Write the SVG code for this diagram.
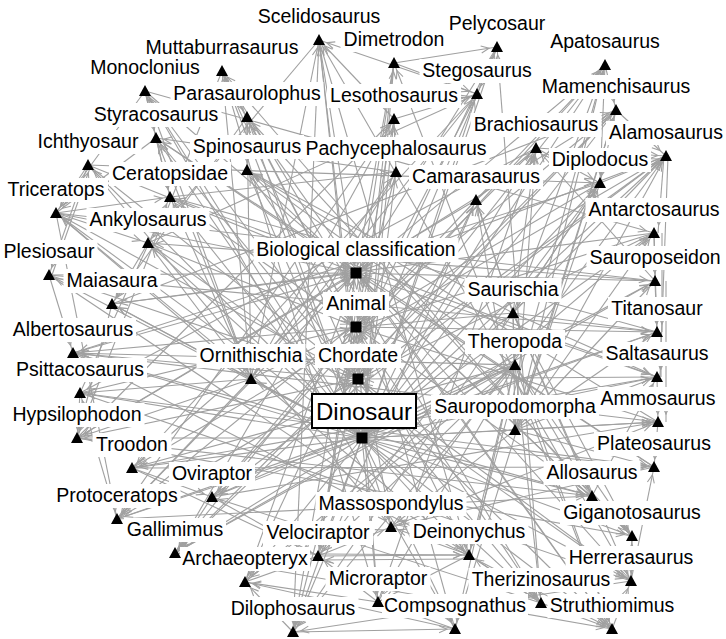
<svg xmlns="http://www.w3.org/2000/svg" xmlns:xlink="http://www.w3.org/1999/xlink" width="726" height="639" viewBox="0 0 726 639">
<style>
#edges path{fill:none;stroke:#a0a0a0;stroke-width:1.1;marker-end:url(#ah)}
.node rect{fill:#fff}
.node text{font-family:"Liberation Sans",Arial,sans-serif;font-size:19.5px;text-anchor:middle;fill:#000}
.node use{fill:#000}
#dinosaur rect{stroke:#000;stroke-width:2}
#dinosaur text{font-size:24px}
</style>
<defs>
<marker id="ah" viewBox="0 0 10 10" refX="17" refY="5" markerWidth="10" markerHeight="10" markerUnits="userSpaceOnUse" orient="auto"><path d="M1,1.5L9,5L1,8.5" fill="none" stroke="#a0a0a0" stroke-width="1.1"/></marker>
<path id="tri" d="M0,-6L6,5H-6Z"/>
<rect id="sq" x="-5.5" y="-5.5" width="11" height="11"/>
</defs>
<rect width="726" height="639" fill="#fff"/>
<g id="edges">
<path d="M362,438L319,40"/><path d="M362,438L222,71"/><path d="M362,438L145,91"/><path d="M362,438L247,117"/><path d="M362,438L156,138"/><path d="M362,438L247,170"/><path d="M362,438L88,165"/><path d="M362,438L170,197"/><path d="M362,438L56,213"/><path d="M362,438L148,243"/><path d="M362,438L49,275"/><path d="M362,438L112,304"/><path d="M362,438L73,353"/><path d="M362,438L80,393"/><path d="M362,438L251,379"/><path d="M362,438L77,438"/><path d="M362,438L132,468"/><path d="M362,438L212,497"/><path d="M362,438L117,519"/><path d="M362,438L175,553"/><path d="M362,438L245,582"/><path d="M362,438L318,556"/><path d="M362,438L293,632"/><path d="M362,438L378,602"/><path d="M362,438L455,629"/><path d="M362,438L391,527"/><path d="M362,438L469,555"/><path d="M362,438L541,603"/><path d="M362,438L612,629"/><path d="M362,438L631,581"/><path d="M362,438L632,536"/><path d="M362,438L592,496"/><path d="M362,438L654,467"/><path d="M362,438L515,430"/><path d="M362,438L658,422"/><path d="M362,438L657,377"/><path d="M362,438L515,365"/><path d="M362,438L657,332"/><path d="M362,438L513,313"/><path d="M362,438L655,281"/><path d="M362,438L654,233"/><path d="M362,438L600,183"/><path d="M362,438L666,156"/><path d="M362,438L476,200"/><path d="M362,438L536,148"/><path d="M362,438L396,172"/><path d="M362,438L616,110"/><path d="M362,438L394,119"/><path d="M362,438L477,94"/><path d="M362,438L605,65"/><path d="M362,438L497,47"/><path d="M362,438L394,63"/>
<path d="M319,40L356,273"/><path d="M145,91L356,273"/><path d="M156,138L356,273"/><path d="M88,165L356,273"/><path d="M56,213L356,273"/><path d="M49,275L356,273"/><path d="M73,353L356,273"/><path d="M77,438L356,273"/><path d="M117,519L356,273"/><path d="M245,582L356,273"/><path d="M293,632L356,273"/><path d="M455,629L356,273"/><path d="M612,629L356,273"/><path d="M631,581L356,273"/><path d="M654,467L356,273"/><path d="M657,377L356,273"/><path d="M655,281L356,273"/><path d="M666,156L356,273"/><path d="M616,110L356,273"/><path d="M605,65L356,273"/><path d="M497,47L356,273"/><path d="M394,63L356,273"/><path d="M112,304L356,273"/><path d="M632,536L356,273"/><path d="M132,468L356,273"/>
<path d="M222,71L356,327"/><path d="M247,117L356,327"/><path d="M247,170L356,327"/><path d="M170,197L356,327"/><path d="M148,243L356,327"/><path d="M80,393L356,327"/><path d="M251,379L356,327"/><path d="M212,497L356,327"/><path d="M175,553L356,327"/><path d="M318,556L356,327"/><path d="M378,602L356,327"/><path d="M391,527L356,327"/><path d="M469,555L356,327"/><path d="M541,603L356,327"/><path d="M592,496L356,327"/><path d="M658,422L356,327"/><path d="M657,332L356,327"/><path d="M654,233L356,327"/><path d="M600,183L356,327"/><path d="M476,200L356,327"/><path d="M536,148L356,327"/><path d="M394,119L356,327"/><path d="M477,94L356,327"/><path d="M396,172L356,327"/>
<path d="M319,40L358,379"/><path d="M88,165L358,379"/><path d="M49,275L358,379"/><path d="M497,47L358,379"/><path d="M394,63L358,379"/><path d="M56,213L358,379"/><path d="M73,353L358,379"/><path d="M175,553L358,379"/><path d="M612,629L358,379"/><path d="M657,377L358,379"/><path d="M666,156L358,379"/><path d="M605,65L358,379"/><path d="M145,91L358,379"/><path d="M77,438L358,379"/><path d="M293,632L358,379"/><path d="M631,581L358,379"/><path d="M654,233L358,379"/><path d="M616,110L358,379"/><path d="M222,71L358,379"/><path d="M117,519L358,379"/>
<path d="M513,313L515,365"/><path d="M513,313L515,430"/><path d="M513,313L247,170"/><path d="M513,313L73,353"/><path d="M513,313L592,496"/><path d="M513,313L632,536"/><path d="M513,313L293,632"/><path d="M513,313L631,581"/><path d="M513,313L536,148"/><path d="M513,313L600,183"/><path d="M513,313L605,65"/><path d="M513,313L476,200"/><path d="M513,313L666,156"/><path d="M513,313L657,332"/><path d="M513,313L657,377"/>
<path d="M251,379L319,40"/><path d="M251,379L222,71"/><path d="M251,379L145,91"/><path d="M251,379L247,117"/><path d="M251,379L156,138"/><path d="M251,379L170,197"/><path d="M251,379L56,213"/><path d="M251,379L148,243"/><path d="M251,379L112,304"/><path d="M251,379L80,393"/><path d="M251,379L77,438"/><path d="M251,379L117,519"/><path d="M251,379L396,172"/><path d="M251,379L394,119"/><path d="M251,379L477,94"/>
<path d="M515,365L132,468"/><path d="M515,365L212,497"/><path d="M515,365L175,553"/><path d="M515,365L318,556"/><path d="M515,365L378,602"/><path d="M515,365L245,582"/><path d="M515,365L469,555"/><path d="M515,365L541,603"/><path d="M515,365L612,629"/><path d="M515,365L455,629"/><path d="M515,365L247,170"/><path d="M515,365L73,353"/><path d="M515,365L592,496"/><path d="M515,365L632,536"/><path d="M515,365L293,632"/>
<path d="M515,430L391,527"/><path d="M515,430L654,467"/><path d="M515,430L658,422"/><path d="M515,430L654,233"/><path d="M515,430L655,281"/><path d="M515,430L657,377"/><path d="M515,430L657,332"/><path d="M515,430L600,183"/><path d="M515,430L536,148"/><path d="M515,430L616,110"/><path d="M515,430L605,65"/><path d="M515,430L476,200"/><path d="M515,430L666,156"/>
<path d="M56,213L170,197"/><path d="M156,138L170,197"/><path d="M145,91L170,197"/><path d="M117,519L80,393"/><path d="M56,213L117,519"/><path d="M156,138L56,213"/><path d="M80,393L170,197"/><path d="M145,91L56,213"/><path d="M88,165L49,275"/><path d="M52,275L91,165"/><path d="M394,63L497,47"/><path d="M318,556L469,555"/><path d="M469,559L318,560"/><path d="M378,602L245,582"/><path d="M245,582L318,556"/><path d="M132,468L318,556"/><path d="M212,497L318,556"/><path d="M175,553L612,629"/><path d="M73,353L592,496"/><path d="M632,536L592,496"/><path d="M247,170L632,536"/><path d="M631,581L632,536"/><path d="M541,603L212,497"/><path d="M455,629L245,582"/><path d="M293,632L455,629"/><path d="M378,602L318,556"/><path d="M469,555L378,602"/><path d="M536,148L600,183"/><path d="M605,65L600,183"/><path d="M476,200L536,148"/><path d="M655,281L536,148"/><path d="M661,332L661,377"/><path d="M668,156L660,377"/><path d="M662,233L662,332"/><path d="M664,156L658,233"/><path d="M666,281L666,422"/><path d="M654,233L657,332"/><path d="M616,110L600,183"/><path d="M600,183L666,156"/><path d="M654,233L655,281"/><path d="M658,422L654,467"/><path d="M654,467L391,527"/><path d="M631,581L654,467"/><path d="M477,94L319,40"/><path d="M394,119L319,40"/><path d="M319,40L148,243"/><path d="M148,243L477,94"/><path d="M396,172L394,119"/><path d="M247,117L112,304"/><path d="M222,71L77,438"/><path d="M77,438L394,119"/><path d="M476,200L605,65"/><path d="M396,172L156,138"/><path d="M132,468L212,497"/><path d="M212,497L175,553"/><path d="M175,553L469,555"/><path d="M631,581L293,632"/><path d="M541,603L612,629"/><path d="M592,496L657,377"/><path d="M170,197L396,172"/><path d="M247,117L247,170"/><path d="M112,304L77,438"/><path d="M49,275L73,353"/><path d="M80,393L77,438"/><path d="M56,213L148,243"/><path d="M148,243L112,304"/><path d="M536,148L666,156"/><path d="M605,65L616,110"/><path d="M616,110L666,156"/><path d="M655,281L657,332"/><path d="M657,377L658,422"/><path d="M476,200L513,313"/><path d="M600,183L513,313"/><path d="M632,536L631,581"/><path d="M391,527L658,422"/><path d="M394,63L477,94"/><path d="M497,47L477,94"/><path d="M394,119L477,94"/><path d="M222,71L247,117"/><path d="M145,91L156,138"/><path d="M88,165L56,213"/><path d="M293,632L245,582"/><path d="M455,629L378,602"/><path d="M318,556L391,527"/><path d="M469,555L391,527"/><path d="M541,603L469,555"/><path d="M612,629L631,581"/>
<path d="M56,213L655,281"/><path d="M49,275L657,332"/><path d="M73,353L658,422"/><path d="M80,393L654,467"/><path d="M88,165L600,183"/><path d="M77,438L632,536"/><path d="M145,91L654,233"/><path d="M132,468L657,377"/><path d="M117,519L592,496"/><path d="M222,71L541,603"/><path d="M319,40L469,555"/><path d="M605,65L212,497"/><path d="M616,110L175,553"/><path d="M497,47L245,582"/><path d="M666,156L132,468"/>
<path d="M170,197L657,377"/><path d="M148,243L631,581"/><path d="M112,304L616,110"/><path d="M247,117L612,629"/><path d="M156,138L541,603"/><path d="M396,172L175,553"/><path d="M394,119L117,519"/><path d="M477,94L132,468"/><path d="M536,148L80,393"/><path d="M476,200L77,438"/><path d="M600,183L73,353"/><path d="M654,233L112,304"/><path d="M655,281L148,243"/><path d="M657,332L170,197"/><path d="M658,422L247,170"/><path d="M654,467L156,138"/><path d="M632,536L247,117"/><path d="M592,496L222,71"/><path d="M631,581L319,40"/><path d="M612,629L394,63"/><path d="M541,603L497,47"/><path d="M469,555L605,65"/><path d="M391,527L666,156"/><path d="M455,629L616,110"/><path d="M378,602L536,148"/><path d="M293,632L476,200"/><path d="M318,556L600,183"/><path d="M245,582L654,233"/><path d="M175,553L655,281"/><path d="M117,519L657,332"/><path d="M212,497L658,422"/><path d="M132,468L654,467"/><path d="M77,438L592,496"/><path d="M80,393L631,581"/><path d="M73,353L612,629"/><path d="M49,275L541,603"/><path d="M56,213L469,555"/><path d="M88,165L391,527"/><path d="M145,91L455,629"/><path d="M222,71L378,602"/><path d="M319,40L293,632"/><path d="M394,63L318,556"/><path d="M616,110L117,519"/><path d="M666,156L212,497"/>
</g>
<g id="nodes">
<g id="scelidosaurus" class="node"><rect x="255" y="5" width="128" height="24"/><text x="319" y="23">Scelidosaurus</text><use href="#tri" x="319" y="40"/></g>
<g id="muttaburrasaurus" class="node"><rect x="142.5" y="36" width="159" height="24"/><text x="222" y="54">Muttaburrasaurus</text><use href="#tri" x="222" y="71"/></g>
<g id="monoclonius" class="node"><rect x="87.5" y="56" width="115" height="24"/><text x="145" y="74">Monoclonius</text><use href="#tri" x="145" y="91"/></g>
<g id="parasaurolophus" class="node"><rect x="170.5" y="82" width="153" height="24"/><text x="247" y="100">Parasaurolophus</text><use href="#tri" x="247" y="117"/></g>
<g id="styracosaurus" class="node"><rect x="90.5" y="103" width="131" height="24"/><text x="156" y="121">Styracosaurus</text><use href="#tri" x="156" y="138"/></g>
<g id="spinosaurus" class="node"><rect x="190" y="135" width="114" height="24"/><text x="247" y="153">Spinosaurus</text><use href="#tri" x="247" y="170"/></g>
<g id="ichthyosaur" class="node"><rect x="34.5" y="130" width="107" height="24"/><text x="88" y="148">Ichthyosaur</text><use href="#tri" x="88" y="165"/></g>
<g id="ceratopsidae" class="node"><rect x="109" y="162" width="122" height="24"/><text x="170" y="180">Ceratopsidae</text><use href="#tri" x="170" y="197"/></g>
<g id="triceratops" class="node"><rect x="4" y="178" width="104" height="24"/><text x="56" y="196">Triceratops</text><use href="#tri" x="56" y="213"/></g>
<g id="ankylosaurus" class="node"><rect x="86.5" y="208" width="123" height="24"/><text x="148" y="226">Ankylosaurus</text><use href="#tri" x="148" y="243"/></g>
<g id="plesiosaur" class="node"><rect x="0.5" y="240" width="97" height="24"/><text x="49" y="258">Plesiosaur</text><use href="#tri" x="49" y="275"/></g>
<g id="maiasaura" class="node"><rect x="63.5" y="269" width="97" height="24"/><text x="112" y="287">Maiasaura</text><use href="#tri" x="112" y="304"/></g>
<g id="albertosaurus" class="node"><rect x="10" y="318" width="126" height="24"/><text x="73" y="336">Albertosaurus</text><use href="#tri" x="73" y="353"/></g>
<g id="psittacosaurus" class="node"><rect x="13" y="358" width="134" height="24"/><text x="80" y="376">Psittacosaurus</text><use href="#tri" x="80" y="393"/></g>
<g id="ornithischia" class="node"><rect x="196.5" y="344" width="109" height="24"/><text x="251" y="362">Ornithischia</text><use href="#tri" x="251" y="379"/></g>
<g id="hypsilophodon" class="node"><rect x="9.5" y="403" width="135" height="24"/><text x="77" y="421">Hypsilophodon</text><use href="#tri" x="77" y="438"/></g>
<g id="troodon" class="node"><rect x="92.5" y="433" width="79" height="24"/><text x="132" y="451">Troodon</text><use href="#tri" x="132" y="468"/></g>
<g id="oviraptor" class="node"><rect x="169" y="462" width="86" height="24"/><text x="212" y="480">Oviraptor</text><use href="#tri" x="212" y="497"/></g>
<g id="protoceratops" class="node"><rect x="53.5" y="484" width="127" height="24"/><text x="117" y="502">Protoceratops</text><use href="#tri" x="117" y="519"/></g>
<g id="archaeopteryx" class="node"><rect x="180" y="547" width="130" height="24"/><text x="245" y="565">Archaeopteryx</text><use href="#tri" x="245" y="582"/></g>
<g id="gallimimus" class="node"><rect x="124" y="518" width="102" height="24"/><text x="175" y="536">Gallimimus</text><use href="#tri" x="175" y="553"/></g>
<g id="velociraptor" class="node"><rect x="263" y="521" width="110" height="24"/><text x="318" y="539">Velociraptor</text><use href="#tri" x="318" y="556"/></g>
<g id="dilophosaurus" class="node"><rect x="227.5" y="597" width="131" height="24"/><text x="293" y="615">Dilophosaurus</text><use href="#tri" x="293" y="632"/></g>
<g id="compsognathus" class="node"><rect x="382" y="594" width="146" height="24"/><text x="455" y="612">Compsognathus</text><use href="#tri" x="455" y="629"/></g>
<g id="microraptor" class="node"><rect x="325.5" y="567" width="105" height="24"/><text x="378" y="585">Microraptor</text><use href="#tri" x="378" y="602"/></g>
<g id="massospondylus" class="node"><rect x="315.5" y="492" width="151" height="24"/><text x="391" y="510">Massospondylus</text><use href="#tri" x="391" y="527"/></g>
<g id="deinonychus" class="node"><rect x="409.5" y="520" width="119" height="24"/><text x="469" y="538">Deinonychus</text><use href="#tri" x="469" y="555"/></g>
<g id="struthiomimus" class="node"><rect x="547.5" y="594" width="129" height="24"/><text x="612" y="612">Struthiomimus</text><use href="#tri" x="612" y="629"/></g>
<g id="therizinosaurus" class="node"><rect x="468.5" y="568" width="145" height="24"/><text x="541" y="586">Therizinosaurus</text><use href="#tri" x="541" y="603"/></g>
<g id="herrerasaurus" class="node"><rect x="565.5" y="546" width="131" height="24"/><text x="631" y="564">Herrerasaurus</text><use href="#tri" x="631" y="581"/></g>
<g id="giganotosaurus" class="node"><rect x="560" y="501" width="144" height="24"/><text x="632" y="519">Giganotosaurus</text><use href="#tri" x="632" y="536"/></g>
<g id="allosaurus" class="node"><rect x="543.5" y="461" width="97" height="24"/><text x="592" y="479">Allosaurus</text><use href="#tri" x="592" y="496"/></g>
<g id="plateosaurus" class="node"><rect x="594" y="432" width="120" height="24"/><text x="654" y="450">Plateosaurus</text><use href="#tri" x="654" y="467"/></g>
<g id="sauropodomorpha" class="node"><rect x="431" y="395" width="168" height="24"/><text x="515" y="413">Sauropodomorpha</text><use href="#tri" x="515" y="430"/></g>
<g id="ammosaurus" class="node"><rect x="597.5" y="387" width="121" height="24"/><text x="658" y="405">Ammosaurus</text><use href="#tri" x="658" y="422"/></g>
<g id="saltasaurus" class="node"><rect x="602.5" y="342" width="109" height="24"/><text x="657" y="360">Saltasaurus</text><use href="#tri" x="657" y="377"/></g>
<g id="theropoda" class="node"><rect x="465" y="330" width="100" height="24"/><text x="515" y="348">Theropoda</text><use href="#tri" x="515" y="365"/></g>
<g id="titanosaur" class="node"><rect x="608" y="297" width="98" height="24"/><text x="657" y="315">Titanosaur</text><use href="#tri" x="657" y="332"/></g>
<g id="saurischia" class="node"><rect x="464.5" y="278" width="97" height="24"/><text x="513" y="296">Saurischia</text><use href="#tri" x="513" y="313"/></g>
<g id="sauroposeidon" class="node"><rect x="586.5" y="246" width="137" height="24"/><text x="655" y="264">Sauroposeidon</text><use href="#tri" x="655" y="281"/></g>
<g id="antarctosaurus" class="node"><rect x="585.5" y="198" width="137" height="24"/><text x="654" y="216">Antarctosaurus</text><use href="#tri" x="654" y="233"/></g>
<g id="diplodocus" class="node"><rect x="549" y="148" width="102" height="24"/><text x="600" y="166">Diplodocus</text><use href="#tri" x="600" y="183"/></g>
<g id="alamosaurus" class="node"><rect x="606" y="121" width="120" height="24"/><text x="666" y="139">Alamosaurus</text><use href="#tri" x="666" y="156"/></g>
<g id="camarasaurus" class="node"><rect x="409" y="165" width="134" height="24"/><text x="476" y="183">Camarasaurus</text><use href="#tri" x="476" y="200"/></g>
<g id="brachiosaurus" class="node"><rect x="470.5" y="113" width="131" height="24"/><text x="536" y="131">Brachiosaurus</text><use href="#tri" x="536" y="148"/></g>
<g id="pachycephalosaurus" class="node"><rect x="302.5" y="137" width="187" height="24"/><text x="396" y="155">Pachycephalosaurus</text><use href="#tri" x="396" y="172"/></g>
<g id="mamenchisaurus" class="node"><rect x="539" y="75" width="154" height="24"/><text x="616" y="93">Mamenchisaurus</text><use href="#tri" x="616" y="110"/></g>
<g id="lesothosaurus" class="node"><rect x="327" y="84" width="134" height="24"/><text x="394" y="102">Lesothosaurus</text><use href="#tri" x="394" y="119"/></g>
<g id="stegosaurus" class="node"><rect x="419.5" y="59" width="115" height="24"/><text x="477" y="77">Stegosaurus</text><use href="#tri" x="477" y="94"/></g>
<g id="apatosaurus" class="node"><rect x="547.5" y="30" width="115" height="24"/><text x="605" y="48">Apatosaurus</text><use href="#tri" x="605" y="65"/></g>
<g id="pelycosaur" class="node"><rect x="446" y="12" width="102" height="24"/><text x="497" y="30">Pelycosaur</text><use href="#tri" x="497" y="47"/></g>
<g id="dimetrodon" class="node"><rect x="340.5" y="28" width="107" height="24"/><text x="394" y="46">Dimetrodon</text><use href="#tri" x="394" y="63"/></g>
<g id="biological-classification" class="node"><rect x="253.5" y="238" width="205" height="24"/><text x="356" y="256">Biological classification</text><use href="#sq" x="356" y="273"/></g>
<g id="animal" class="node"><rect x="323" y="292" width="66" height="24"/><text x="356" y="310">Animal</text><use href="#sq" x="356" y="327"/></g>
<g id="chordate" class="node"><rect x="315" y="344" width="86" height="24"/><text x="358" y="362">Chordate</text><use href="#sq" x="358" y="379"/></g>
<g id="dinosaur" class="node"><rect x="312" y="394" width="104" height="34"/><text x="364" y="420">Dinosaur</text><use href="#sq" x="362" y="438"/></g>
</g>
</svg>
